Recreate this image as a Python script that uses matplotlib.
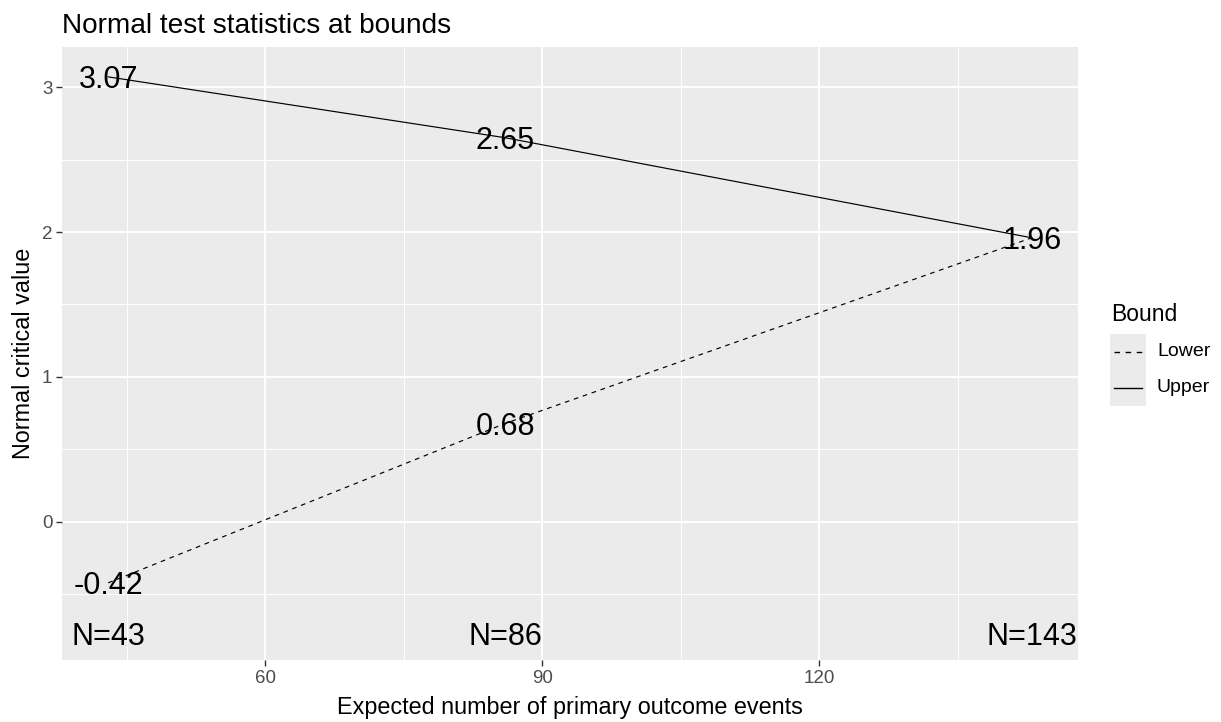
import matplotlib.pyplot as plt
from matplotlib.lines import Line2D
from matplotlib.patches import Rectangle

# data
events = [43, 86, 143]
upper = [3.07, 2.65, 1.96]
lower = [-0.42, 0.68, 1.96]
n_labels = ['N=43', 'N=86', 'N=143']
n_y = -0.77
bound_names = ['Lower', 'Upper']
bound_styles = [(0, (4, 4)), '-']

plt.rcParams['font.family'] = ['Liberation Sans', 'DejaVu Sans']

W, H = 1221, 722
fig = plt.figure(figsize=(W / 100, H / 100), dpi=100)
ax = fig.add_axes([62 / W, 1 - 660 / H, (1078 - 62) / W, (660 - 47) / H])

# ggplot grey panel
ax.set_facecolor('#EBEBEB')
for s in ax.spines.values():
    s.set_visible(False)

ax.set_xlim(38, 148)
ax.set_ylim(-0.952, 3.276)
ax.set_xticks([60, 90, 120])
ax.set_yticks([0, 1, 2, 3])
ax.set_xticks([45, 75, 105, 135], minor=True)
ax.set_yticks([-0.5, 0.5, 1.5, 2.5], minor=True)
ax.grid(True, which='major', color='white', linewidth=1.4)
ax.grid(True, which='minor', color='white', linewidth=0.7)
ax.set_axisbelow(True)
ax.tick_params(which='major', length=4, width=1, color='#333333',
               labelsize=13.5, labelcolor='#4D4D4D', pad=3)
ax.tick_params(which='minor', length=0)

# lines
ax.plot(events, lower, color='black', linestyle=bound_styles[0], linewidth=0.85)
ax.plot(events, upper, color='black', linestyle=bound_styles[1], linewidth=0.85)


def label(x, y, s):
    # centred text, nudged down a little like ggplot's vjust=0.5
    ax.annotate(s, (x, y), xytext=(0, -2.5), textcoords='offset points',
                ha='center', va='center', fontsize=22)


for x, y in zip(events, upper):
    label(x, y, f'{y:.2f}')
for x, y in zip(events[:-1], lower[:-1]):
    label(x, y, f'{y:.2f}')
for x, lab in zip(events, n_labels):
    label(x, n_y, lab)

ax.set_xlabel('Expected number of primary outcome events', fontsize=16.8, labelpad=7)
ax.set_ylabel('Normal critical value', fontsize=16.8, labelpad=5)
ax.set_title('Normal test statistics at bounds', fontsize=20.2, loc='left', pad=10)

# legend (drawn by hand, ggplot style)
fig.text(1111 / W, 1 - 315 / H, 'Bound', fontsize=16.5, va='center', ha='left')
fig.patches.append(Rectangle((1110 / W, 1 - 406 / H), 36 / W, 72 / H,
                             transform=fig.transFigure, facecolor='#EBEBEB',
                             edgecolor='none'))
for i, (name, ls) in enumerate(zip(bound_names, bound_styles)):
    yk = 1 - (352 + 36 * i) / H
    fig.lines.append(Line2D([1114 / W, 1142 / W], [yk, yk], transform=fig.transFigure,
                            color='black', linestyle=ls, linewidth=1.0))
    fig.text(1157 / W, yk, name, fontsize=14, va='center', ha='left')

fig.savefig('out.png', dpi=100)
